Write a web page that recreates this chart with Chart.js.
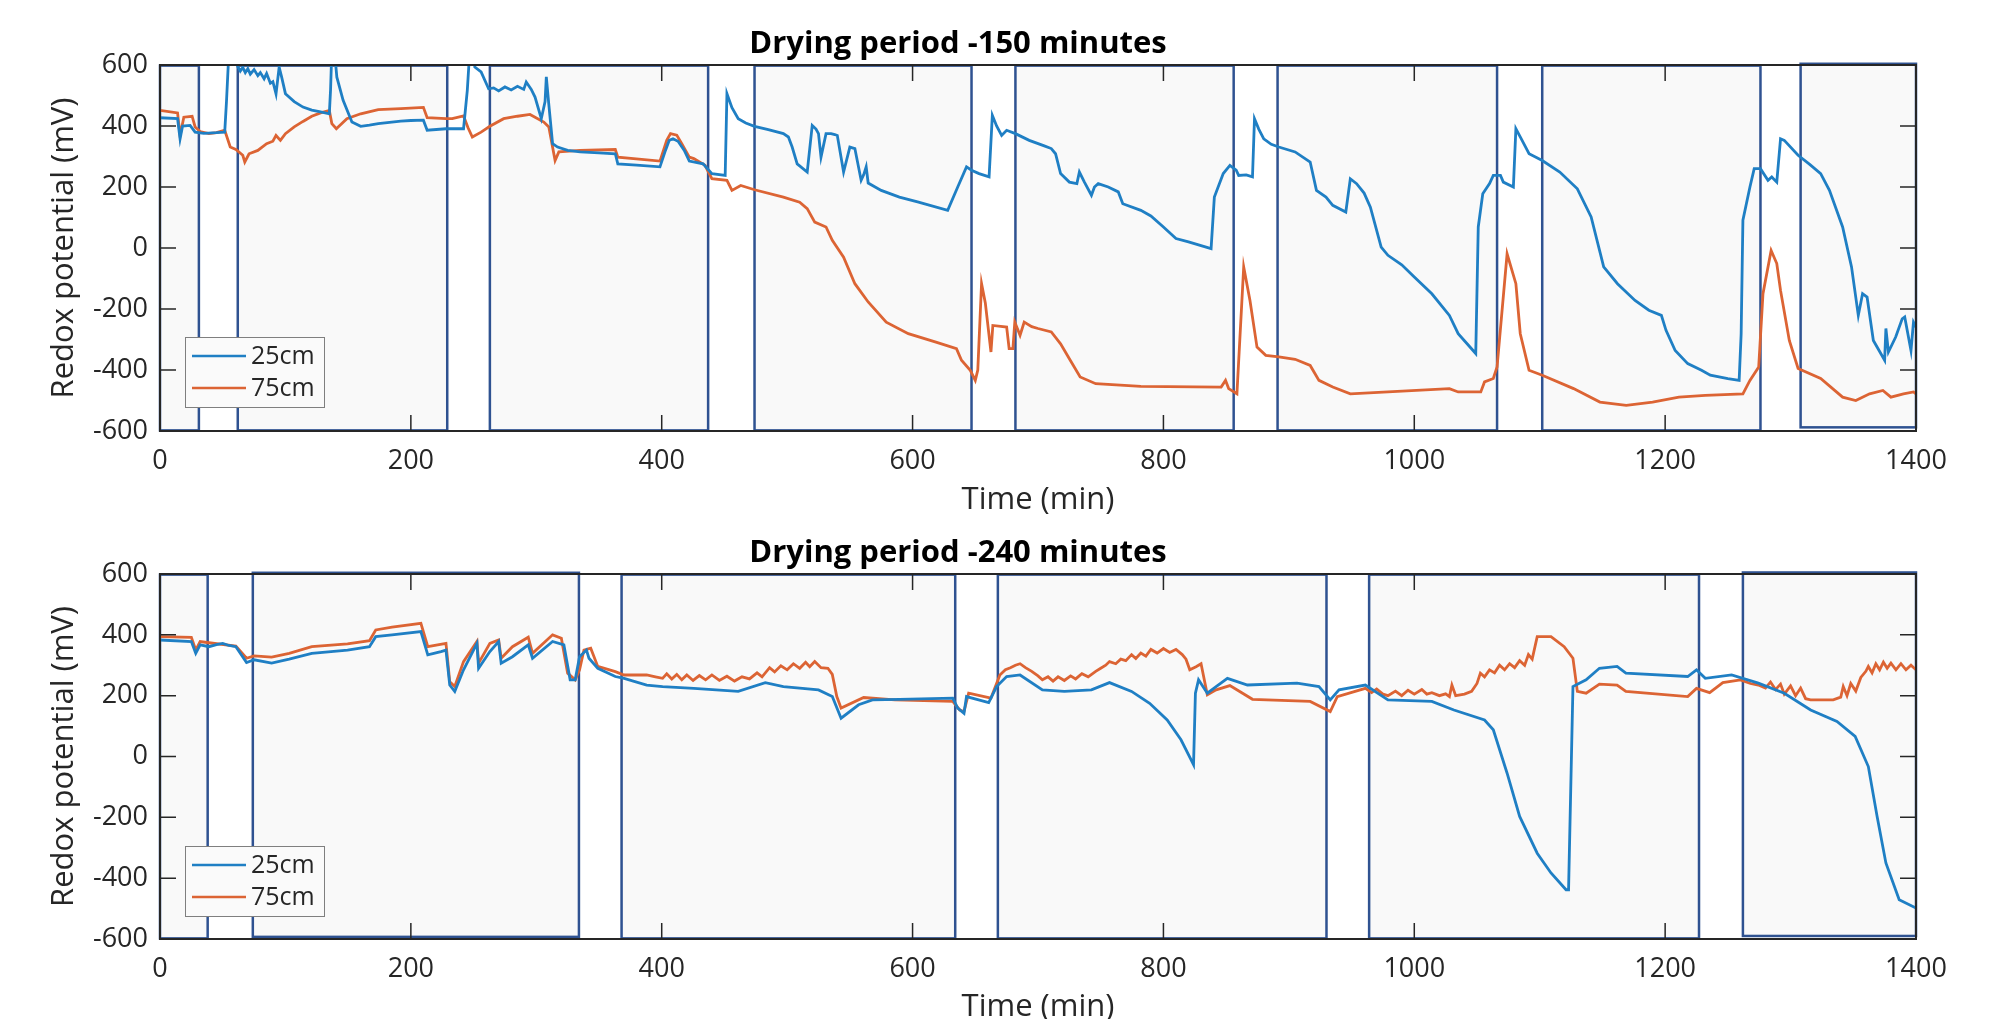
<!DOCTYPE html>
<html>
<head>
<meta charset="utf-8">
<script src="https://cdn.jsdelivr.net/npm/chart.js@4.4.1/dist/chart.umd.min.js"></script>
<style>
  body { margin: 0; background: #fff; }
  .panel { position: absolute; left: 0; width: 1992px; }
</style>
</head>
<body>
<div class="panel" style="top:0;height:540px"><canvas id="chart150"></canvas></div>
<div class="panel" style="top:509px;height:510px"><canvas id="chart240"></canvas></div>
<script>
//~~~~~~~~~~~~~~~~~~~~~~~~~~~~~~~~~~~~~~~~~~~~~~~~~~~~~~~~~~~~~~~~~~~~~~~~~
// DATA  [time (min), redox (mV)]
const xTicks = [0, 200, 400, 600, 800, 1000, 1200, 1400];
const yTicks = [-600, -400, -200, 0, 200, 400, 600];
const seriesLabels = ["25cm", "75cm"];

// drying period 150 min
const dry150_25cm = [[0,427],[14,424],[16,358],[18,400],[24,402],[28,380],[35,376],[45,378],[51.6,380],[53,480],[55,650],[60,650],[62,595],[64,580],[66,592],[68,575],[70,588],[72,570],[75,585],[78,565],[80,575],[83,555],[85,572],[88,540],[90,545],[92.5,505],[95,593],[97,560],[100,506],[107,480],[114,462],[121,452],[128,446],[135,440],[136,520],[137,650],[139,650],[141,560],[146,484],[153,413],[160,399],[167,403],[174,408],[183,412],[192,416],[200,418],[210,419],[213,386],[228,391],[242,391],[245,517],[247,650],[250,640],[251,593],[256,577],[262,522],[266,525],[270,515],[275,528],[280,518],[285,530],[290,520],[292,544],[296,520],[299,495],[304,424],[307,480],[308,561],[310,470],[313,342],[317,331],[325,320],[335,315],[350,312],[363,309],[365,276],[380,272],[398.6,266],[403,320],[406,353],[409,358],[413,350],[418,320],[422,285],[433,276],[440,244],[450.6,238],[452,506],[456,460],[461,424],[467,410],[474,399],[485,388],[497,375],[501,364],[504,331],[508,276],[516,249],[520,402],[523,390],[525,375],[527,298],[531,375],[535,375],[538,372],[540,369],[545,249],[550,331],[554,326],[559,222],[561,240],[563,266],[564.6,213],[575,189],[589.5,167],[604,151],[628,123.5],[636,200],[643,266],[647,255],[653,244],[661,233],[663.6,435],[667,400],[671,369],[675,386],[682,375],[693,353],[705,335],[710.6,326],[714,309],[718,244],[725,216],[731,211],[733,249],[737,216],[742.6,173],[745,200],[748,211],[756,200],[764,184],[767.6,145],[782,123.5],[790,105],[800,69],[810,31],[820,20],[838,-2],[840.6,167],[847.7,244],[853,271],[858,255],[860,238],[866,240],[871,233],[872.6,424],[876,390],[880,358],[886,340],[892,331],[905,315],[917,282],[922,189],[929.6,167],[935,140],[945.4,118],[949,227],[954,211],[960,180],[965,134],[973.6,3],[979,-24],[990,-55],[1000,-95],[1014,-150],[1028,-221],[1035,-281],[1049,-346],[1051,69],[1054.6,178],[1060,211],[1063,238],[1068.7,238],[1071,216],[1079,200],[1081,391],[1085,360],[1091.5,309],[1102,287],[1116,249],[1130,194],[1141,102],[1151,-62],[1162,-117],[1176,-172],[1187,-204],[1197,-221],[1200.7,-270],[1208,-336],[1218,-379],[1229,-401],[1236,-417],[1250,-428],[1259,-434],[1260.6,-281],[1262,91],[1267.6,200],[1271,260],[1276,260],[1282,222],[1285,233],[1289,216],[1292,358],[1295,353],[1306,304],[1315,275],[1324,244],[1331,189],[1341.5,69],[1348.6,-62],[1354,-221],[1357.4,-150],[1361,-161],[1366,-303],[1375,-368],[1376,-264],[1378,-341],[1383.8,-292],[1389,-232],[1391,-226],[1396,-336],[1398,-243],[1400,-259]];
const dry150_75cm = [[0,451],[14,443],[16,369],[19,429],[25.6,432],[28,397],[32,382],[39,375],[45,378],[51.6,386],[56,331],[60.5,323],[66,304],[67.6,282],[71,309],[78,320],[85,342],[90,350],[92.5,369],[96,353],[100,375],[107,397],[114,415],[121,432],[128,443],[135,451],[137,408],[140.6,391],[149,424],[160,440],[174,454],[192,457],[210,461],[213,427],[228,424],[233,424],[242,433],[245.5,395],[249,364],[256,380],[263,399],[274,424],[285,432],[295,438],[306,413],[310,397],[315,287],[318,315],[335,320],[363,323],[365,298],[398.6,285],[404,353],[407,375],[412,370],[416,342],[422,298],[425.6,293],[434.5,271],[440,227],[452,222],[456,189],[463,205],[474,191],[497,167],[510,150],[516,129],[522,85],[531,69],[536,25],[545,-30],[554,-117],[564.6,-177],[579,-243],[596.6,-281],[618,-308],[635,-330],[639,-368],[646,-401],[650,-434],[652,-400],[655,-117],[658,-180],[662.5,-341],[664,-254],[675,-259],[677,-330],[680,-330],[681.5,-243],[685.7,-286],[689,-243],[695,-258],[700,-264],[710.6,-275],[718,-314],[725,-363],[733.6,-423],[746,-445],[782,-454],[846,-456],[849.5,-434],[852,-461],[858.6,-478],[864,-62],[869,-172],[874.6,-325],[881.6,-352],[892,-357],[905,-365],[917,-385],[924,-434],[935,-456],[949,-478],[979,-472],[1028,-461],[1035,-472],[1053,-472],[1056,-439],[1063,-428],[1066,-390],[1074,-19],[1081,-117],[1084.5,-281],[1091.5,-401],[1102,-417],[1127,-461],[1148,-505],[1169,-516],[1190,-505],[1211,-489],[1232,-483],[1262,-478],[1267.6,-434],[1274.6,-390],[1278,-150],[1284.5,-8],[1289,-51],[1292,-139],[1299,-303],[1306,-395],[1324,-428],[1341.5,-489],[1352,-500],[1363,-478],[1373.6,-467],[1380,-489],[1390,-478],[1398,-472],[1400,-478]];

// drying period 240 min
const dry240_25cm = [[0,383],[25,378],[28.5,339],[32,367],[39,361],[45,368],[50,372],[55,365],[60.5,361],[69,309],[75,318],[89,307],[103,320],[121,339],[149.5,350],[167,361],[172,394],[185,400],[208,411],[213.5,334],[224,345],[228,350],[231,235],[235,214],[242,285],[252.7,372],[254,290],[263,345],[270,378],[272,307],[281,328],[293.6,367],[297,323],[313,378],[322,367],[327,252],[331,252],[334.5,328],[340,350],[342,323],[349,290],[363,263],[370,257],[388,235],[400.7,230],[425.6,224],[461,214],[482.6,243],[497,230],[525,219],[536,197],[543,126],[557,170],[568,186],[589.5,188],[632,192],[636,159],[641,142],[643,197],[660.7,177],[667,230],[675,263],[685.7,268],[703.5,219],[721,214],[742.6,219],[757,243],[774.6,214],[789,175],[803,120],[814,55],[824,-27],[825.5,208],[828,252],[835,208],[842,230],[851,257],[867,235],[906.5,241],[924,230],[933,186],[940,219],[961,235],[979,186],[1014,181],[1031.6,153],[1056,120],[1063,88],[1074,-55],[1084,-197],[1098,-318],[1109,-383],[1121,-438],[1123,-438],[1126.5,230],[1137,252],[1147.6,290],[1161.7,296],[1168.7,274],[1218,263],[1225,285],[1232,257],[1253,268],[1274.3,241],[1295,208],[1316,153],[1337,115],[1351.5,66],[1362,-33],[1369,-197],[1376,-350],[1386.6,-471],[1400,-498]];
const dry240_75cm = [[0,394],[25,392],[28.5,350],[32,378],[39,374],[60.5,363],[69,323],[75,331],[89,327],[103,339],[121,361],[149.5,370],[167,381],[172,416],[185,425],[208,438],[213.5,361],[228,372],[231,246],[235,230],[242,312],[252.7,378],[254,307],[263,372],[270,383],[272,323],[281,361],[293.6,392],[297,339],[313,400],[320,389],[325,274],[331,252],[334.5,285],[338,350],[343.4,356],[349,296],[363,279],[370,268],[388,268],[395,262],[400.7,257],[404,272],[408,255],[412,270],[416,252],[420,268],[425,250],[430,266],[435,252],[440,268],[446,250],[452,264],[458,248],[464,262],[470,255],[476,275],[480,262],[486,292],[490,278],[495,298],[500,285],[505,305],[510,290],[514.7,310],[518,295],[522,312],[527,292],[532.5,290],[536,270],[539.6,197],[543,159],[561,194],[586,186],[632,181],[637.6,153],[641,148],[644.7,208],[662.5,192],[669.6,268],[674,285],[678,292],[682,300],[685.7,305],[690,292],[695,280],[700,265],[703.5,252],[708,262],[712,248],[716,262],[721,250],[726,265],[730,255],[735,272],[740,262],[746,280],[750,290],[754,300],[757,312],[762,305],[766,320],[770,315],[774.6,335],[778,322],[782,340],[786,330],[790,352],[795,340],[800,355],[805,342],[810,352],[815,335],[818,320],[821,285],[826,295],[830,305],[835,203],[842,219],[853,233],[871,188],[917,181],[933,148],[938.6,197],[961,224],[966,210],[970,222],[975,205],[979,200],[985,215],[990,200],[995,218],[1000,205],[1006,220],[1010,205],[1014,210],[1020,200],[1025,206],[1028,197],[1030,235],[1033,200],[1040,205],[1045.7,214],[1050,240],[1052.7,274],[1056,262],[1060,285],[1064,275],[1068,300],[1072,285],[1076,305],[1080,292],[1084,315],[1088,300],[1091,335],[1094,320],[1098,394],[1109,394],[1119.5,361],[1126.5,323],[1130,214],[1137,208],[1147.6,238],[1161.7,235],[1168.7,214],[1218,197],[1225,224],[1235.5,210],[1246,243],[1260,252],[1268,240],[1274.3,235],[1280,225],[1284,245],[1288,220],[1292,238],[1295,205],[1300,232],[1304,200],[1308,225],[1312,190],[1316,186],[1334,186],[1340,195],[1342,230],[1345,200],[1348,240],[1352,215],[1356,260],[1360,280],[1362,296],[1365,275],[1368,305],[1371,285],[1374,310],[1377,290],[1380,307],[1384,285],[1388,305],[1392,285],[1396,300],[1400,285]];

// shaded (wet) periods: start, end, top, bottom
const wet150Start = [0, 62, 263, 474, 682, 891, 1102, 1308];
const wet150End = [31, 229, 437, 647, 856, 1066, 1276, 1400];
const wet150Top = [598, 598, 598, 598, 598, 598, 598, 604];
const wet150Bottom = [-598, -598, -598, -598, -598, -598, -598, -588];

const wet240Start = [0, 74, 368, 668, 964, 1262];
const wet240End = [38, 334, 634, 930, 1227, 1400];
const wet240Top = [598, 604, 598, 598, 598, 605];
const wet240Bottom = [-598, -593, -598, -598, -598, -590];

//~~~~~~~~~~~~~~~~~~~~~~~~~~~~~~~~~~~~~~~~~~~~~~~~~~~~~~~~~~~~~~~~~~~~~~~~~
const BLUE = "#1f7fc4";
const ORANGE = "#dc6434";
const INK = "#262626";
const FONT = "'Open Sans', sans-serif";

const toPoints = (arr) => arr.map((p) => ({ x: p[0], y: p[1] }));

// grey boxes with blue frame, drawn under the lines
const shadePlugin = (start, end, top, bottom) => ({
  id: "shade",
  beforeDatasetsDraw(chart) {
    const { ctx, scales } = chart;
    ctx.save();
    for (let i = 0; i < start.length; i++) {
      const x0 = scales.x.getPixelForValue(start[i]);
      const x1 = scales.x.getPixelForValue(end[i]);
      const y0 = scales.y.getPixelForValue(top[i]);
      const y1 = scales.y.getPixelForValue(bottom[i]);
      ctx.fillStyle = "#f9f9f9";
      ctx.fillRect(x0, y0, x1 - x0, y1 - y0);
      ctx.strokeStyle = "#2f5291";
      ctx.lineWidth = 2.5;
      ctx.strokeRect(x0, y0, x1 - x0, y1 - y0);
    }
    ctx.restore();
  },
});

// matlab style box with inward ticks
const boxPlugin = {
  id: "box",
  afterDatasetsDraw(chart) {
    const { ctx, chartArea: a, scales } = chart;
    const len = 16;
    ctx.save();
    ctx.strokeStyle = INK;
    ctx.lineWidth = 1.5;
    ctx.beginPath();
    xTicks.forEach((v) => {
      const px = scales.x.getPixelForValue(v);
      ctx.moveTo(px, a.bottom);
      ctx.lineTo(px, a.bottom - len);
      ctx.moveTo(px, a.top);
      ctx.lineTo(px, a.top + len);
    });
    yTicks.forEach((v) => {
      const py = scales.y.getPixelForValue(v);
      ctx.moveTo(a.left, py);
      ctx.lineTo(a.left + len, py);
      ctx.moveTo(a.right, py);
      ctx.lineTo(a.right - len, py);
    });
    ctx.stroke();
    ctx.lineWidth = 2;
    ctx.strokeRect(a.left, a.top, a.right - a.left, a.bottom - a.top);
    ctx.restore();
  },
};

// legend box inside the axes, lower left
const legendPlugin = {
  id: "innerLegend",
  afterDraw(chart) {
    const { ctx, chartArea: a } = chart;
    const bx = a.left + 25;
    const by = a.top + 272;
    ctx.save();
    ctx.fillStyle = "#fafafa";
    ctx.fillRect(bx, by, 139, 70);
    ctx.strokeStyle = "#7f7f7f";
    ctx.lineWidth = 1;
    ctx.strokeRect(bx + 0.5, by + 0.5, 139, 70);
    ctx.font = "25px " + FONT;
    ctx.textBaseline = "middle";
    chart.data.datasets.forEach((ds, i) => {
      const ly = by + 19 + i * 32;
      ctx.strokeStyle = ds.borderColor;
      ctx.lineWidth = 2.5;
      ctx.beginPath();
      ctx.moveTo(bx + 7, ly);
      ctx.lineTo(bx + 61, ly);
      ctx.stroke();
      ctx.fillStyle = INK;
      ctx.fillText(ds.label, bx + 66, ly + 1);
    });
    ctx.restore();
  },
};

const makeChart = (id, titleText, blue, orange, shade, xAxisHeight, xTitlePad) => {
  const config = {
    type: "line",
    data: {
      datasets: [
        { label: seriesLabels[0], data: toPoints(blue), borderColor: BLUE, borderWidth: 2.8 },
        { label: seriesLabels[1], data: toPoints(orange), borderColor: ORANGE, borderWidth: 2.8 },
      ],
    },
    options: {
      responsive: true,
      maintainAspectRatio: false,
      animation: false,
      layout: { padding: { left: 0, right: 76, top: 0, bottom: 0 } },
      elements: { point: { radius: 0 }, line: { tension: 0 } },
      plugins: {
        legend: { display: false },
        tooltip: { enabled: false },
        title: {
          display: true,
          text: titleText,
          color: "#000",
          font: { family: FONT, size: 31, weight: "bold", lineHeight: 1.2 },
          padding: { top: 25.4, bottom: 2.4 },
        },
      },
      scales: {
        x: {
          type: "linear",
          min: 0,
          max: 1400,
          afterBuildTicks: (scale) => { scale.ticks = xTicks.map((v) => ({ value: v })); },
          afterFit: (scale) => { scale.height = xAxisHeight; },
          grid: { display: false, drawTicks: false },
          border: { display: false },
          ticks: { color: INK, padding: 14, font: { family: FONT, size: 27 }, callback: (v) => String(v) },
          title: {
            display: true,
            text: "Time (min)",
            color: INK,
            font: { family: FONT, size: 31, lineHeight: 1 },
            padding: { top: 0, bottom: xTitlePad },
          },
        },
        y: {
          min: -600,
          max: 600,
          afterBuildTicks: (scale) => { scale.ticks = yTicks.map((v) => ({ value: v })); },
          afterFit: (scale) => { scale.width = 160; },
          grid: { display: false, drawTicks: false },
          border: { display: false },
          ticks: { color: INK, padding: 12, font: { family: FONT, size: 27 }, callback: (v) => String(v) },
          title: {
            display: true,
            text: "Redox potential (mV)",
            color: INK,
            font: { family: FONT, size: 31, lineHeight: 1.2 },
            padding: { top: 46, bottom: 0 },
          },
        },
      },
    },
    plugins: [shadePlugin(shade[0], shade[1], shade[2], shade[3]), boxPlugin, legendPlugin],
  };
  return new Chart(document.getElementById(id), config);
};

const chart150 = makeChart("chart150", "Drying period -150 minutes", dry150_25cm, dry150_75cm,
  [wet150Start, wet150End, wet150Top, wet150Bottom], 109, 24.5);
const chart240 = makeChart("chart240", "Drying period -240 minutes", dry240_25cm, dry240_75cm,
  [wet240Start, wet240End, wet240Top, wet240Bottom], 80, -3.5);
</script>
</body>
</html>
